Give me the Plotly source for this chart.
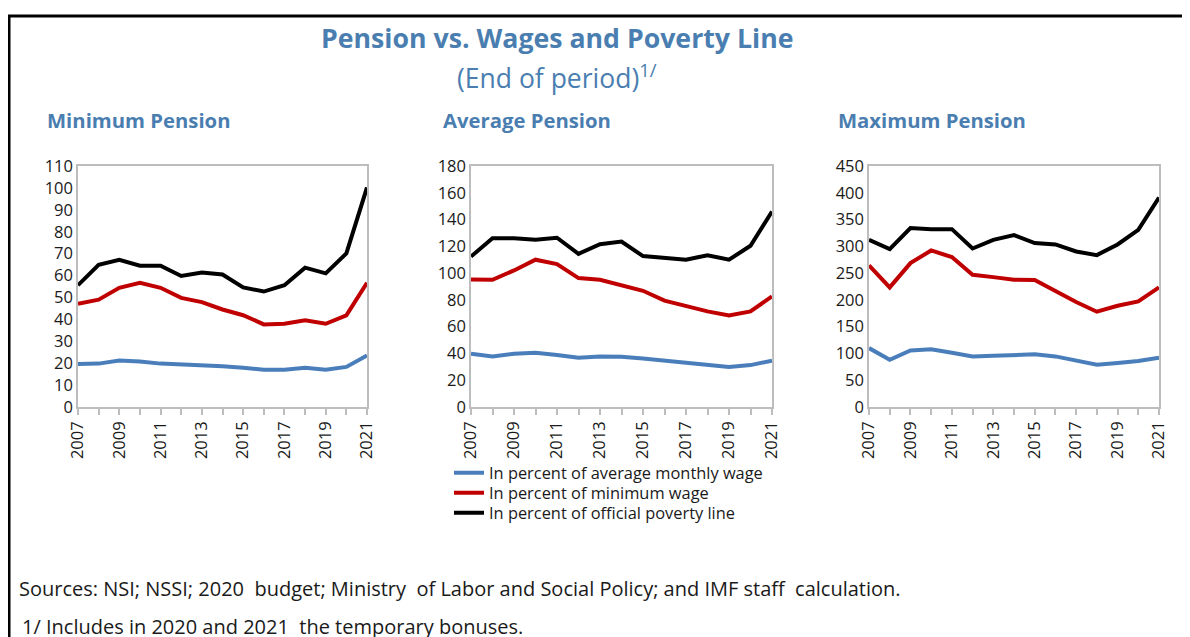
import plotly.graph_objects as go

# ------------------------------------------------------------
# Data
# ------------------------------------------------------------
years = list(range(2007, 2022))

series_names = [
    "In percent of average monthly wage",
    "In percent of minimum wage",
    "In percent of official poverty line",
]
series_colors = ["#4A7EBB", "#C00000", "#000000"]

min_avg_wage = [19.6, 19.8, 21.2, 20.8, 19.8, 19.4, 19.3, 18.6, 17.9, 17.0, 17.0, 17.9, 17.0, 18.3, 23.5]
min_min_wage = [47.1, 49.0, 54.4, 56.7, 54.4, 49.8, 47.9, 44.5, 41.9, 37.7, 38.0, 39.6, 38.0, 41.8, 56.7]
min_poverty = [55.6, 64.9, 67.2, 64.5, 64.5, 59.8, 61.4, 60.5, 54.6, 52.7, 55.6, 63.6, 61.0, 70.1, 100.2]

avg_avg_wage = [39.8, 37.8, 39.8, 40.5, 38.8, 36.8, 37.8, 37.6, 36.3, 34.8, 33.3, 31.8, 29.9, 31.3, 34.6]
avg_min_wage = [95.3, 95.0, 102.0, 110.0, 106.7, 96.3, 95.0, 91.0, 86.8, 79.4, 75.1, 71.4, 68.4, 71.4, 82.6]
avg_poverty = [112.4, 126.1, 126.1, 124.9, 126.4, 114.4, 121.6, 123.6, 112.7, 111.2, 110.0, 113.4, 110.0, 120.4, 146.0]

max_avg_wage = [110.0, 88.3, 105.7, 107.6, 101.4, 94.5, 95.8, 97.0, 98.3, 94.5, 86.4, 79.0, 82.0, 85.8, 92.0]
max_min_wage = [264.3, 223.3, 268.7, 292.3, 279.9, 246.9, 242.5, 237.6, 237.0, 215.8, 195.9, 177.9, 189.1, 197.1, 223.3]
max_poverty = [312.2, 294.8, 334.0, 332.1, 332.1, 296.0, 312.2, 320.9, 306.0, 303.5, 290.4, 283.6, 303.5, 330.8, 391.0]

panel_titles = ["Minimum Pension", "Average Pension", "Maximum Pension"]
panel_data = [
    [min_avg_wage, min_min_wage, min_poverty],
    [avg_avg_wage, avg_min_wage, avg_poverty],
    [max_avg_wage, max_min_wage, max_poverty],
]
y_ranges = [(0, 110, 10), (0, 180, 20), (0, 450, 50)]

title = "Pension vs. Wages and Poverty Line"
subtitle = "(End of period)<sup>1/</sup>"
source_note = "Sources: NSI; NSSI; 2020  budget; Ministry  of Labor and Social Policy; and IMF staff  calculation."
foot_note = "1/ Includes in 2020 and 2021  the temporary bonuses."

# ------------------------------------------------------------
# Layout helpers: page pixel -> paper (the page body has an 8px margin)
# ------------------------------------------------------------
OFF = 8
W, H = 1190 - OFF, 637 - OFF
FONT = "Open Sans, DejaVu Sans, sans-serif"
BLUE_TXT = "#4A7EB0"
AXIS_GRAY = "#BDBDBD"


def px(x):
    return (x - OFF) / W


def py(y):
    return 1 - (y - OFF) / H


x_domains = [(78, 367), (471, 772), (869, 1159)]
y_domain = [py(407), py(166)]
title_x = [45, 441, 836]
legend_ids = ["legend", "legend2", "legend3"]
legend_y = [473, 493, 513]

fig = go.Figure()

for i, (data, (lo, hi, step)) in enumerate(zip(panel_data, y_ranges)):
    n = i + 1
    xa = "x" if n == 1 else f"x{n}"
    ya = "y" if n == 1 else f"y{n}"
    for k, (vals, name, color) in enumerate(zip(data, series_names, series_colors)):
        fig.add_trace(go.Scatter(
            x=years, y=vals, mode="lines", name=name,
            line=dict(color=color, width=4),
            xaxis=xa, yaxis=ya, showlegend=(n == 1), legend=legend_ids[k],
        ))

    ax_common = dict(showline=True, linecolor=AXIS_GRAY, linewidth=1.5, mirror=True,
                     showgrid=False, zeroline=False, automargin=False,
                     tickfont=dict(family=FONT, size=16.5, color="#1a1a1a"))
    fig.update_layout(**{
        ("xaxis" if n == 1 else f"xaxis{n}"): dict(
            domain=[px(x_domains[i][0]), px(x_domains[i][1])],
            anchor=ya, range=[years[0], years[-1]],
            tickmode="linear", tick0=years[0], dtick=2,
            tickangle=-90, ticks="outside", ticklen=6, tickcolor=AXIS_GRAY,
            tickwidth=1.5,
            minor=dict(tickmode="linear", tick0=years[0], dtick=1, ticks="outside",
                       ticklen=6, tickcolor=AXIS_GRAY, tickwidth=1.5, showgrid=False),
            **ax_common),
        ("yaxis" if n == 1 else f"yaxis{n}"): dict(
            domain=y_domain, anchor=xa, range=[lo, hi], dtick=step,
            ticks="", **ax_common),
    })

    fig.add_annotation(text=f"<b>{panel_titles[i]}</b>", xref="paper", yref="paper",
                       x=px(title_x[i]), y=py(120), xanchor="left", yanchor="middle",
                       showarrow=False, font=dict(family=FONT, size=20.3, color=BLUE_TXT))

fig.add_annotation(text=f"<b>{title}</b>", xref="paper", yref="paper",
                   x=px(557), y=py(38), xanchor="center", yanchor="middle",
                   showarrow=False, font=dict(family=FONT, size=26.7, color=BLUE_TXT))
fig.add_annotation(text=subtitle, xref="paper", yref="paper",
                   x=px(557), y=py(76), xanchor="center", yanchor="middle",
                   showarrow=False, font=dict(family=FONT, size=26.5, color=BLUE_TXT))
fig.add_annotation(text=source_note, xref="paper", yref="paper",
                   x=px(17), y=py(588), xanchor="left", yanchor="middle",
                   showarrow=False, font=dict(family=FONT, size=20, color="#1a1a1a"))
fig.add_annotation(text=foot_note, xref="paper", yref="paper",
                   x=px(20), y=py(626), xanchor="left", yanchor="middle",
                   showarrow=False, font=dict(family=FONT, size=20, color="#1a1a1a"))

# outer frame (top and left edges)
fig.add_shape(type="line", xref="paper", yref="paper", x0=px(8), x1=1, y0=py(16), y1=py(16),
              line=dict(color="black", width=3))
fig.add_shape(type="line", xref="paper", yref="paper", x0=px(9), x1=px(9), y0=py(16), y1=0,
              line=dict(color="black", width=3))

legend_style = dict(xanchor="left", yanchor="middle",
                    font=dict(family=FONT, size=16.4, color="#1a1a1a"),
                    bgcolor="rgba(0,0,0,0)", borderwidth=0)
fig.update_layout(
    width=W, height=H,
    margin=dict(l=0, r=0, t=0, b=0, pad=0, autoexpand=False),
    paper_bgcolor="white", plot_bgcolor="white",
    showlegend=True,
    legend=dict(x=px(449), y=py(legend_y[0]), **legend_style),
    legend2=dict(x=px(449), y=py(legend_y[1]), **legend_style),
    legend3=dict(x=px(449), y=py(legend_y[2]), **legend_style),
)

fig.write_html("out.html")
